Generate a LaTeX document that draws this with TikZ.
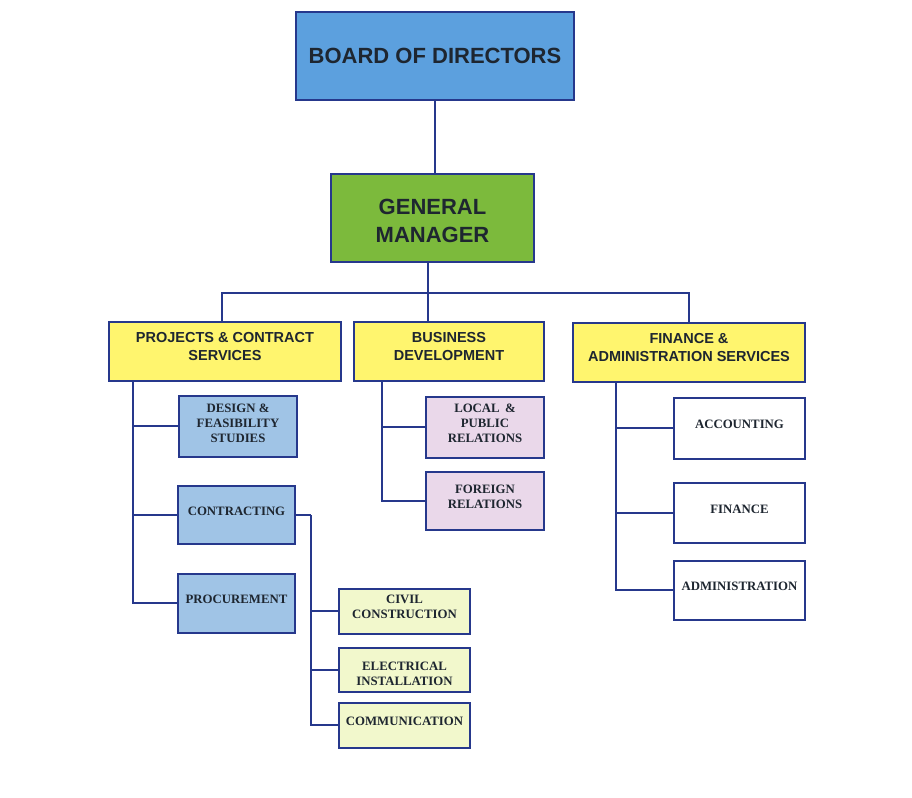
\documentclass[tikz,border=0pt]{standalone}
\usepackage{fontspec}
\setmainfont{Liberation Serif}
\newfontfamily\arialf{Liberation Sans}
\definecolor{navy}{RGB}{38,56,140}
\definecolor{txt}{RGB}{30,38,48}
\definecolor{boardblue}{RGB}{92,160,222}
\definecolor{gmgreen}{RGB}{124,186,60}
\definecolor{ylw}{RGB}{255,245,110}
\definecolor{ltblue}{RGB}{160,196,230}
\definecolor{pink}{RGB}{234,216,234}
\definecolor{ltgreen}{RGB}{242,248,204}
\begin{document}
\begin{tikzpicture}[x=1pt,y=-1pt,
  box/.style={draw=navy,line width=2pt,align=center,text=txt,inner sep=2pt},
  bigbox/.style={box,font=\arialf\bfseries\fontsize{22}{28}\selectfont},
  midbox/.style={box,text depth=10pt,font=\arialf\bfseries\fontsize{14.5}{18}\selectfont},
  subbox/.style={box,text depth=8pt,font=\bfseries\fontsize{12.8}{15}\selectfont},
  link/.style={draw=navy,line width=2pt}]
\useasboundingbox (0,0) rectangle (912,797);
% top
\node[bigbox,fill=boardblue,minimum width=278,minimum height=88] (board) at (435,56) {BOARD OF DIRECTORS};
\node[bigbox,fill=gmgreen,minimum width=203,minimum height=88] (gm) at (432.5,218) {\rule{0pt}{22pt}GENERAL\\MANAGER};
% departments
\node[midbox,fill=ylw,minimum width=232,minimum height=59] (proj) at (225,351.5) {PROJECTS \& CONTRACT\\SERVICES};
\node[midbox,fill=ylw,minimum width=190,minimum height=59] (bus) at (449,351.5) {BUSINESS\\DEVELOPMENT};
\node[midbox,fill=ylw,minimum width=232,minimum height=59] (fin) at (689,352.5) {FINANCE \&\\ADMINISTRATION SERVICES};
% projects sub
\node[subbox,text depth=5pt,fill=ltblue,minimum width=118,minimum height=61] (design) at (238,426) {DESIGN \&\\FEASIBILITY\\STUDIES};
\node[subbox,fill=ltblue,minimum width=117,minimum height=58] (contr) at (236.5,515) {CONTRACTING};
\node[subbox,fill=ltblue,minimum width=117,minimum height=59] (proc) at (236.5,603) {PROCUREMENT};
\node[subbox,fill=ltgreen,minimum width=131,minimum height=45] (civil) at (404.5,611) {CIVIL\\CONSTRUCTION};
\node[subbox,text depth=0pt,fill=ltgreen,minimum width=131,minimum height=44] (elec) at (404.5,670) {\rule{0pt}{15.5pt}ELECTRICAL\\INSTALLATION};
\node[subbox,fill=ltgreen,minimum width=131,minimum height=45] (comm) at (404.5,725) {COMMUNICATION};
% business sub
\node[subbox,fill=pink,minimum width=118,minimum height=61] (local) at (485,427) {LOCAL \,\&\\PUBLIC\\RELATIONS};
\node[subbox,fill=pink,minimum width=118,minimum height=58] (foreign) at (485,501) {FOREIGN\\RELATIONS};
% finance sub
\node[subbox,fill=white,minimum width=131,minimum height=61] (acct) at (739.5,428) {ACCOUNTING};
\node[subbox,fill=white,minimum width=131,minimum height=60] (fins) at (739.5,513) {FINANCE};
\node[subbox,fill=white,minimum width=131,minimum height=59] (admin) at (739.5,590) {ADMINISTRATION};
% connectors
\draw[link] (board.south) -- (board.south |- gm.north);
\coordinate (hb) at ([xshift=-4.5pt]gm.south |- 0,293);
\draw[link] ([xshift=-4.5pt]gm.south) -- (hb);
\draw[link] ([xshift=-3pt]proj.north) |- (hb) -| (fin.north);
\draw[link] (hb) -- (hb |- bus.north);
% projects trunk
\coordinate (pj) at ([xshift=25pt]proj.south west);
\draw[link] (pj) |- (proc.west);
\draw[link] (pj) |- (design.west);
\draw[link] (pj) |- (contr.west);
\draw[link] (contr.east) -- ++(15,0) coordinate (cr);
\draw[link] (cr) |- (comm.west);
\draw[link] (cr) |- (civil.west);
\draw[link] (cr) |- (elec.west);
% business trunk
\coordinate (bj) at ([xshift=29pt]bus.south west);
\draw[link] (bj) |- (foreign.west);
\draw[link] (bj) |- (local.west);
% finance trunk
\coordinate (fj) at ([xshift=44pt]fin.south west);
\draw[link] (fj) |- (admin.west);
\draw[link] (fj) |- (acct.west);
\draw[link] (fj) |- (fins.west);
\end{tikzpicture}
\end{document}
